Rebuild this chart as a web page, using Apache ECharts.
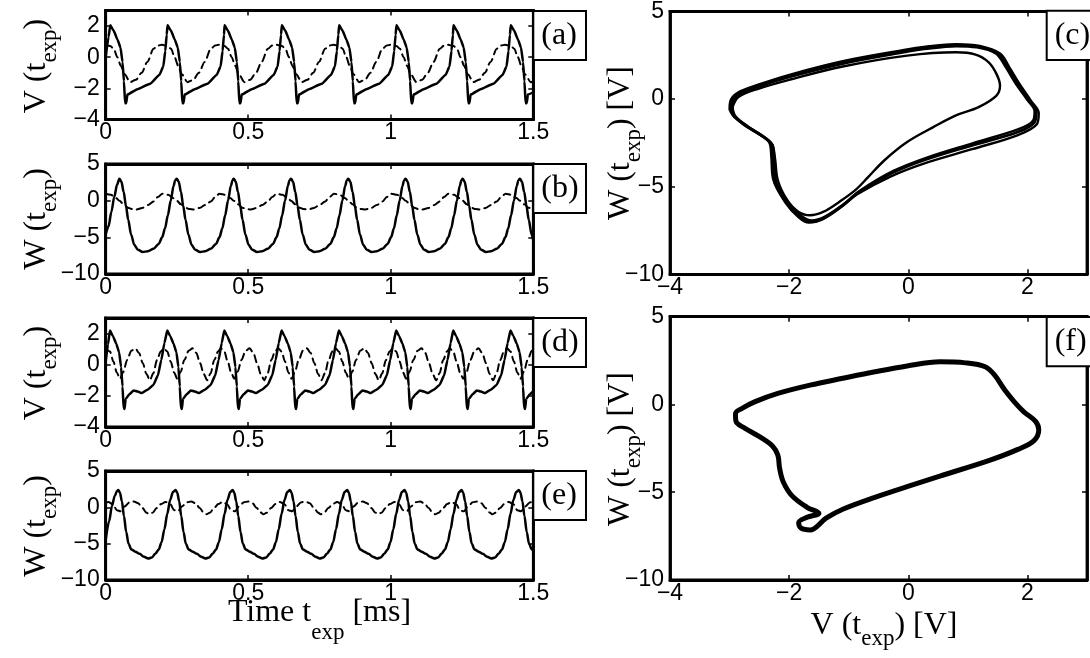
<!DOCTYPE html>
<html><head><meta charset="utf-8">
<script src="https://cdn.jsdelivr.net/npm/echarts@6/dist/echarts.min.js"></script>
<style>html,body{margin:0;padding:0;background:#fff}#c{width:1090px;height:658px}</style>
</head><body><div id="c"></div>
<script>
// ---------- tick labels ----------
const timeTicks = [0, 0.5, 1, 1.5];
const vTicks = [-4, -2, 0, 2];
const wTicks = [-10, -5, 0, 5];
const vPhaseTicks = [-4, -2, 0, 2];
const panelLetters = ['(a)', '(b)', '(c)', '(d)', '(e)', '(f)'];

// ---------- (a) V(t), solid ----------
const aSolid = [[0,0.0],[0.010,1.3],
[0.016,2.05],[0.028,1.7],[0.042,1.1],[0.052,0.6],[0.059,-0.3],[0.064,-1.55],[0.068,-2.95],[0.072,-2.95],[0.076,-2.4],[0.111,-2.05],[0.156,-1.7],[0.188,-1.15],[0.202,-0.6],[0.209,0.4],[0.214,1.45],
[0.217,2.05],[0.229,1.7],[0.243,1.1],[0.253,0.6],[0.260,-0.3],[0.265,-1.55],[0.269,-2.95],[0.273,-2.95],[0.277,-2.4],[0.312,-2.05],[0.357,-1.7],[0.389,-1.15],[0.403,-0.6],[0.410,0.4],[0.415,1.45],
[0.417,2.05],[0.429,1.7],[0.443,1.1],[0.453,0.6],[0.460,-0.3],[0.465,-1.55],[0.469,-2.95],[0.473,-2.95],[0.477,-2.4],[0.512,-2.05],[0.557,-1.7],[0.589,-1.15],[0.603,-0.6],[0.610,0.4],[0.615,1.45],
[0.618,2.05],[0.630,1.7],[0.644,1.1],[0.654,0.6],[0.661,-0.3],[0.666,-1.55],[0.670,-2.95],[0.674,-2.95],[0.678,-2.4],[0.713,-2.05],[0.758,-1.7],[0.790,-1.15],[0.804,-0.6],[0.811,0.4],[0.816,1.45],
[0.819,2.05],[0.831,1.7],[0.845,1.1],[0.855,0.6],[0.862,-0.3],[0.867,-1.55],[0.871,-2.95],[0.875,-2.95],[0.879,-2.4],[0.914,-2.05],[0.959,-1.7],[0.991,-1.15],[1.005,-0.6],[1.012,0.4],[1.017,1.45],
[1.020,2.05],[1.032,1.7],[1.046,1.1],[1.056,0.6],[1.063,-0.3],[1.068,-1.55],[1.072,-2.95],[1.076,-2.95],[1.080,-2.4],[1.115,-2.05],[1.160,-1.7],[1.192,-1.15],[1.206,-0.6],[1.213,0.4],[1.218,1.45],
[1.220,2.05],[1.232,1.7],[1.246,1.1],[1.256,0.6],[1.263,-0.3],[1.268,-1.55],[1.272,-2.95],[1.276,-2.95],[1.280,-2.4],[1.315,-2.05],[1.360,-1.7],[1.392,-1.15],[1.406,-0.6],[1.413,0.4],[1.418,1.45],
[1.421,2.05],[1.433,1.7],[1.447,1.1],[1.457,0.6],[1.464,-0.3],[1.469,-1.55],[1.473,-2.95],[1.477,-2.95],[1.481,-2.4],[1.5,-2.25]];

// ---------- (a) V(t), dashed ----------
const aDashed = [[0,0.78],
[0.016,0.72],[0.028,0.55],[0.041,0.0],[0.053,-0.55],[0.066,-1.1],[0.086,-1.6],[0.106,-1.45],[0.126,-1.0],[0.146,-0.3],[0.168,0.55],[0.183,0.75],
[0.197,0.8],[0.217,0.72],[0.229,0.55],[0.242,0.0],[0.254,-0.55],[0.267,-1.1],[0.287,-1.6],[0.307,-1.45],[0.327,-1.0],[0.347,-0.3],[0.369,0.55],[0.384,0.75],
[0.397,0.8],[0.417,0.72],[0.429,0.55],[0.442,0.0],[0.454,-0.55],[0.467,-1.1],[0.487,-1.6],[0.507,-1.45],[0.527,-1.0],[0.547,-0.3],[0.569,0.55],[0.584,0.75],
[0.598,0.8],[0.618,0.72],[0.630,0.55],[0.643,0.0],[0.655,-0.55],[0.668,-1.1],[0.688,-1.6],[0.708,-1.45],[0.728,-1.0],[0.748,-0.3],[0.770,0.55],[0.785,0.75],
[0.799,0.8],[0.819,0.72],[0.831,0.55],[0.844,0.0],[0.856,-0.55],[0.869,-1.1],[0.889,-1.6],[0.909,-1.45],[0.929,-1.0],[0.949,-0.3],[0.971,0.55],[0.986,0.75],
[1.000,0.8],[1.020,0.72],[1.032,0.55],[1.045,0.0],[1.057,-0.55],[1.070,-1.1],[1.090,-1.6],[1.110,-1.45],[1.130,-1.0],[1.150,-0.3],[1.172,0.55],[1.187,0.75],
[1.200,0.8],[1.220,0.72],[1.232,0.55],[1.245,0.0],[1.257,-0.55],[1.270,-1.1],[1.290,-1.6],[1.310,-1.45],[1.330,-1.0],[1.350,-0.3],[1.372,0.55],[1.387,0.75],
[1.401,0.8],[1.421,0.72],[1.433,0.55],[1.446,0.0],[1.458,-0.55],[1.471,-1.1],[1.491,-1.6],[1.5,-1.55]];

// ---------- (b) W(t), solid ----------
const bSolid = [[0,-4.6],[0.010,-3.5],[0.020,-1.5],[0.030,0.5],[0.040,2.2],
[0.048,3.0],[0.055,2.6],[0.063,1.2],[0.071,-0.7],[0.079,-2.6],[0.089,-4.6],[0.100,-6.0],[0.113,-6.7],[0.130,-7.0],[0.148,-6.9],[0.168,-6.55],[0.186,-5.9],[0.198,-5.0],[0.208,-3.8],[0.218,-2.0],[0.228,0.0],[0.238,2.0],[0.244,2.8],
[0.249,3.0],[0.256,2.6],[0.264,1.2],[0.272,-0.7],[0.280,-2.6],[0.290,-4.6],[0.301,-6.0],[0.314,-6.7],[0.331,-7.0],[0.349,-6.9],[0.369,-6.55],[0.387,-5.9],[0.399,-5.0],[0.409,-3.8],[0.419,-2.0],[0.429,0.0],[0.439,2.0],[0.445,2.8],
[0.449,3.0],[0.456,2.6],[0.464,1.2],[0.472,-0.7],[0.480,-2.6],[0.490,-4.6],[0.501,-6.0],[0.514,-6.7],[0.531,-7.0],[0.549,-6.9],[0.569,-6.55],[0.587,-5.9],[0.599,-5.0],[0.609,-3.8],[0.619,-2.0],[0.629,0.0],[0.639,2.0],[0.645,2.8],
[0.650,3.0],[0.657,2.6],[0.665,1.2],[0.673,-0.7],[0.681,-2.6],[0.691,-4.6],[0.702,-6.0],[0.715,-6.7],[0.732,-7.0],[0.750,-6.9],[0.770,-6.55],[0.788,-5.9],[0.800,-5.0],[0.810,-3.8],[0.820,-2.0],[0.830,0.0],[0.840,2.0],[0.846,2.8],
[0.851,3.0],[0.858,2.6],[0.866,1.2],[0.874,-0.7],[0.882,-2.6],[0.892,-4.6],[0.903,-6.0],[0.916,-6.7],[0.933,-7.0],[0.951,-6.9],[0.971,-6.55],[0.989,-5.9],[1.001,-5.0],[1.011,-3.8],[1.021,-2.0],[1.031,0.0],[1.041,2.0],[1.047,2.8],
[1.052,3.0],[1.059,2.6],[1.067,1.2],[1.075,-0.7],[1.083,-2.6],[1.093,-4.6],[1.104,-6.0],[1.117,-6.7],[1.134,-7.0],[1.152,-6.9],[1.172,-6.55],[1.190,-5.9],[1.202,-5.0],[1.212,-3.8],[1.222,-2.0],[1.232,0.0],[1.242,2.0],[1.248,2.8],
[1.252,3.0],[1.259,2.6],[1.267,1.2],[1.275,-0.7],[1.283,-2.6],[1.293,-4.6],[1.304,-6.0],[1.317,-6.7],[1.334,-7.0],[1.352,-6.9],[1.372,-6.55],[1.390,-5.9],[1.402,-5.0],[1.412,-3.8],[1.422,-2.0],[1.432,0.0],[1.442,2.0],[1.448,2.8],
[1.453,3.0],[1.460,2.6],[1.468,1.2],[1.476,-0.7],[1.484,-2.6],[1.494,-4.6],[1.5,-5.4]];

// ---------- (b) W(t), dashed ----------
const bDashed = [[0,0.95],[0.018,0.8],[0.036,0.35],[0.048,0.0],[0.063,-0.5],[0.078,-0.95],[0.093,-1.15],[0.108,-1.2],[0.128,-1.0],[0.148,-0.6],[0.168,-0.1],[0.183,0.5],
[0.199,0.95],[0.219,0.8],[0.237,0.35],[0.249,0.0],[0.264,-0.5],[0.279,-0.95],[0.294,-1.15],[0.309,-1.2],[0.329,-1.0],[0.349,-0.6],[0.369,-0.1],[0.384,0.5],
[0.399,0.95],[0.419,0.8],[0.437,0.35],[0.449,0.0],[0.464,-0.5],[0.479,-0.95],[0.494,-1.15],[0.509,-1.2],[0.529,-1.0],[0.549,-0.6],[0.569,-0.1],[0.584,0.5],
[0.600,0.95],[0.620,0.8],[0.638,0.35],[0.650,0.0],[0.665,-0.5],[0.680,-0.95],[0.695,-1.15],[0.710,-1.2],[0.730,-1.0],[0.750,-0.6],[0.770,-0.1],[0.785,0.5],
[0.801,0.95],[0.821,0.8],[0.839,0.35],[0.851,0.0],[0.866,-0.5],[0.881,-0.95],[0.896,-1.15],[0.911,-1.2],[0.931,-1.0],[0.951,-0.6],[0.971,-0.1],[0.986,0.5],
[1.002,0.95],[1.022,0.8],[1.040,0.35],[1.052,0.0],[1.067,-0.5],[1.082,-0.95],[1.097,-1.15],[1.112,-1.2],[1.132,-1.0],[1.152,-0.6],[1.172,-0.1],[1.187,0.5],
[1.202,0.95],[1.222,0.8],[1.240,0.35],[1.252,0.0],[1.267,-0.5],[1.282,-0.95],[1.297,-1.15],[1.312,-1.2],[1.332,-1.0],[1.352,-0.6],[1.372,-0.1],[1.387,0.5],
[1.403,0.95],[1.423,0.8],[1.441,0.35],[1.453,0.0],[1.468,-0.5],[1.483,-0.95],[1.498,-1.15],[1.5,-1.15]];

// ---------- (d) V(t), solid ----------
const dSolid = [[0,0.2],[0.008,1.3],
[0.015,2.2],[0.025,1.85],[0.037,1.35],[0.047,0.8],[0.054,-0.15],[0.059,-1.4],[0.063,-2.8],[0.066,-2.85],[0.070,-2.2],[0.083,-1.9],[0.098,-1.65],[0.112,-1.72],[0.127,-1.82],[0.147,-1.6],[0.167,-1.3],[0.183,-0.7],[0.195,0.3],[0.206,1.4],
[0.216,2.2],[0.226,1.85],[0.238,1.35],[0.248,0.8],[0.255,-0.15],[0.260,-1.4],[0.264,-2.8],[0.267,-2.85],[0.271,-2.2],[0.284,-1.9],[0.299,-1.65],[0.313,-1.72],[0.328,-1.82],[0.348,-1.6],[0.368,-1.3],[0.384,-0.7],[0.396,0.3],[0.407,1.4],
[0.416,2.2],[0.426,1.85],[0.438,1.35],[0.448,0.8],[0.455,-0.15],[0.460,-1.4],[0.464,-2.8],[0.467,-2.85],[0.471,-2.2],[0.484,-1.9],[0.499,-1.65],[0.513,-1.72],[0.528,-1.82],[0.548,-1.6],[0.568,-1.3],[0.584,-0.7],[0.596,0.3],[0.607,1.4],
[0.617,2.2],[0.627,1.85],[0.639,1.35],[0.649,0.8],[0.656,-0.15],[0.661,-1.4],[0.665,-2.8],[0.668,-2.85],[0.672,-2.2],[0.685,-1.9],[0.700,-1.65],[0.714,-1.72],[0.729,-1.82],[0.749,-1.6],[0.769,-1.3],[0.785,-0.7],[0.797,0.3],[0.808,1.4],
[0.818,2.2],[0.828,1.85],[0.840,1.35],[0.850,0.8],[0.857,-0.15],[0.862,-1.4],[0.866,-2.8],[0.869,-2.85],[0.873,-2.2],[0.886,-1.9],[0.901,-1.65],[0.915,-1.72],[0.930,-1.82],[0.950,-1.6],[0.970,-1.3],[0.986,-0.7],[0.998,0.3],[1.009,1.4],
[1.019,2.2],[1.029,1.85],[1.041,1.35],[1.051,0.8],[1.058,-0.15],[1.063,-1.4],[1.067,-2.8],[1.070,-2.85],[1.074,-2.2],[1.087,-1.9],[1.102,-1.65],[1.116,-1.72],[1.131,-1.82],[1.151,-1.6],[1.171,-1.3],[1.187,-0.7],[1.199,0.3],[1.210,1.4],
[1.219,2.2],[1.229,1.85],[1.241,1.35],[1.251,0.8],[1.258,-0.15],[1.263,-1.4],[1.267,-2.8],[1.270,-2.85],[1.274,-2.2],[1.287,-1.9],[1.302,-1.65],[1.316,-1.72],[1.331,-1.82],[1.351,-1.6],[1.371,-1.3],[1.387,-0.7],[1.399,0.3],[1.410,1.4],
[1.420,2.2],[1.430,1.85],[1.442,1.35],[1.452,0.8],[1.459,-0.15],[1.464,-1.4],[1.468,-2.8],[1.471,-2.85],[1.475,-2.2],[1.488,-1.9],[1.5,-1.7]];

// ---------- (d) V(t), dashed ----------
const dDashed = [[0,1.05],
[0.015,0.85],[0.027,0.2],[0.039,-0.5],[0.050,-0.9],[0.062,-0.45],[0.075,0.3],[0.090,0.9],[0.104,1.05],[0.117,0.75],[0.130,0.1],[0.143,-0.6],[0.155,-1.0],[0.167,-0.55],[0.180,0.3],[0.193,0.85],
[0.204,1.05],[0.216,0.85],[0.228,0.2],[0.240,-0.5],[0.251,-0.9],[0.263,-0.45],[0.276,0.3],[0.291,0.9],[0.305,1.05],[0.318,0.75],[0.331,0.1],[0.344,-0.6],[0.356,-1.0],[0.368,-0.55],[0.381,0.3],[0.394,0.85],
[0.404,1.05],[0.416,0.85],[0.428,0.2],[0.440,-0.5],[0.451,-0.9],[0.463,-0.45],[0.476,0.3],[0.491,0.9],[0.505,1.05],[0.518,0.75],[0.531,0.1],[0.544,-0.6],[0.556,-1.0],[0.568,-0.55],[0.581,0.3],[0.594,0.85],
[0.605,1.05],[0.617,0.85],[0.629,0.2],[0.641,-0.5],[0.652,-0.9],[0.664,-0.45],[0.677,0.3],[0.692,0.9],[0.706,1.05],[0.719,0.75],[0.732,0.1],[0.745,-0.6],[0.757,-1.0],[0.769,-0.55],[0.782,0.3],[0.795,0.85],
[0.806,1.05],[0.818,0.85],[0.830,0.2],[0.842,-0.5],[0.853,-0.9],[0.865,-0.45],[0.878,0.3],[0.893,0.9],[0.907,1.05],[0.920,0.75],[0.933,0.1],[0.946,-0.6],[0.958,-1.0],[0.970,-0.55],[0.983,0.3],[0.996,0.85],
[1.007,1.05],[1.019,0.85],[1.031,0.2],[1.043,-0.5],[1.054,-0.9],[1.066,-0.45],[1.079,0.3],[1.094,0.9],[1.108,1.05],[1.121,0.75],[1.134,0.1],[1.147,-0.6],[1.159,-1.0],[1.171,-0.55],[1.184,0.3],[1.197,0.85],
[1.207,1.05],[1.219,0.85],[1.231,0.2],[1.243,-0.5],[1.254,-0.9],[1.266,-0.45],[1.279,0.3],[1.294,0.9],[1.308,1.05],[1.321,0.75],[1.334,0.1],[1.347,-0.6],[1.359,-1.0],[1.371,-0.55],[1.384,0.3],[1.397,0.85],
[1.408,1.05],[1.420,0.85],[1.432,0.2],[1.444,-0.5],[1.455,-0.9],[1.467,-0.45],[1.480,0.3],[1.495,0.9],[1.5,1.0]];

// ---------- (e) W(t), solid ----------
const eSolid = [[0,-4.5],[0.012,-1.9],[0.022,0.2],[0.032,1.6],[0.039,2.2],
[0.044,2.4],[0.050,2.0],[0.057,0.8],[0.064,-1.2],[0.072,-3.4],[0.080,-5.0],[0.090,-5.8],[0.104,-6.1],[0.119,-6.4],[0.134,-6.8],[0.149,-7.05],[0.162,-6.9],[0.174,-6.4],[0.186,-5.8],[0.196,-4.8],[0.206,-3.0],[0.216,-0.9],[0.226,1.0],[0.236,2.1],
[0.245,2.4],[0.251,2.0],[0.258,0.8],[0.265,-1.2],[0.273,-3.4],[0.281,-5.0],[0.291,-5.8],[0.305,-6.1],[0.320,-6.4],[0.335,-6.8],[0.350,-7.05],[0.363,-6.9],[0.375,-6.4],[0.387,-5.8],[0.397,-4.8],[0.407,-3.0],[0.417,-0.9],[0.427,1.0],[0.437,2.1],
[0.445,2.4],[0.451,2.0],[0.458,0.8],[0.465,-1.2],[0.473,-3.4],[0.481,-5.0],[0.491,-5.8],[0.505,-6.1],[0.520,-6.4],[0.535,-6.8],[0.550,-7.05],[0.563,-6.9],[0.575,-6.4],[0.587,-5.8],[0.597,-4.8],[0.607,-3.0],[0.617,-0.9],[0.627,1.0],[0.637,2.1],
[0.646,2.4],[0.652,2.0],[0.659,0.8],[0.666,-1.2],[0.674,-3.4],[0.682,-5.0],[0.692,-5.8],[0.706,-6.1],[0.721,-6.4],[0.736,-6.8],[0.751,-7.05],[0.764,-6.9],[0.776,-6.4],[0.788,-5.8],[0.798,-4.8],[0.808,-3.0],[0.818,-0.9],[0.828,1.0],[0.838,2.1],
[0.847,2.4],[0.853,2.0],[0.860,0.8],[0.867,-1.2],[0.875,-3.4],[0.883,-5.0],[0.893,-5.8],[0.907,-6.1],[0.922,-6.4],[0.937,-6.8],[0.952,-7.05],[0.965,-6.9],[0.977,-6.4],[0.989,-5.8],[0.999,-4.8],[1.009,-3.0],[1.019,-0.9],[1.029,1.0],[1.039,2.1],
[1.048,2.4],[1.054,2.0],[1.061,0.8],[1.068,-1.2],[1.076,-3.4],[1.084,-5.0],[1.094,-5.8],[1.108,-6.1],[1.123,-6.4],[1.138,-6.8],[1.153,-7.05],[1.166,-6.9],[1.178,-6.4],[1.190,-5.8],[1.200,-4.8],[1.210,-3.0],[1.220,-0.9],[1.230,1.0],[1.240,2.1],
[1.248,2.4],[1.254,2.0],[1.261,0.8],[1.268,-1.2],[1.276,-3.4],[1.284,-5.0],[1.294,-5.8],[1.308,-6.1],[1.323,-6.4],[1.338,-6.8],[1.353,-7.05],[1.366,-6.9],[1.378,-6.4],[1.390,-5.8],[1.400,-4.8],[1.410,-3.0],[1.420,-0.9],[1.430,1.0],[1.440,2.1],
[1.449,2.4],[1.455,2.0],[1.462,0.8],[1.469,-1.2],[1.477,-3.4],[1.485,-5.0],[1.495,-5.8],[1.5,-5.9]];

// ---------- (e) W(t), dashed ----------
const eDashed = [[0,0.65],
[0.009,0.75],[0.026,0.4],[0.039,-0.4],[0.052,-0.55],[0.066,0.1],[0.084,0.7],[0.099,0.8],[0.114,0.55],[0.129,-0.1],[0.142,-0.7],[0.152,-0.95],[0.164,-0.75],[0.179,-0.1],[0.194,0.45],
[0.210,0.75],[0.227,0.4],[0.240,-0.4],[0.253,-0.55],[0.267,0.1],[0.285,0.7],[0.300,0.8],[0.315,0.55],[0.330,-0.1],[0.343,-0.7],[0.353,-0.95],[0.365,-0.75],[0.380,-0.1],[0.395,0.45],
[0.410,0.75],[0.427,0.4],[0.440,-0.4],[0.453,-0.55],[0.467,0.1],[0.485,0.7],[0.500,0.8],[0.515,0.55],[0.530,-0.1],[0.543,-0.7],[0.553,-0.95],[0.565,-0.75],[0.580,-0.1],[0.595,0.45],
[0.611,0.75],[0.628,0.4],[0.641,-0.4],[0.654,-0.55],[0.668,0.1],[0.686,0.7],[0.701,0.8],[0.716,0.55],[0.731,-0.1],[0.744,-0.7],[0.754,-0.95],[0.766,-0.75],[0.781,-0.1],[0.796,0.45],
[0.812,0.75],[0.829,0.4],[0.842,-0.4],[0.855,-0.55],[0.869,0.1],[0.887,0.7],[0.902,0.8],[0.917,0.55],[0.932,-0.1],[0.945,-0.7],[0.955,-0.95],[0.967,-0.75],[0.982,-0.1],[0.997,0.45],
[1.013,0.75],[1.030,0.4],[1.043,-0.4],[1.056,-0.55],[1.070,0.1],[1.088,0.7],[1.103,0.8],[1.118,0.55],[1.133,-0.1],[1.146,-0.7],[1.156,-0.95],[1.168,-0.75],[1.183,-0.1],[1.198,0.45],
[1.213,0.75],[1.230,0.4],[1.243,-0.4],[1.256,-0.55],[1.270,0.1],[1.288,0.7],[1.303,0.8],[1.318,0.55],[1.333,-0.1],[1.346,-0.7],[1.356,-0.95],[1.368,-0.75],[1.383,-0.1],[1.398,0.45],
[1.414,0.75],[1.431,0.4],[1.444,-0.4],[1.457,-0.55],[1.471,0.1],[1.489,0.7],[1.5,0.78]];

// ---------- (c) phase portrait: several traced cycles ----------
const cLoop1 = [[-2.98,-0.55],[-2.93,-0.93],[-2.74,-1.50],[-2.44,-2.13],[-2.31,-2.54],[-2.28,-3.31],[-2.25,-4.63],[-2.03,-5.96],[-1.81,-6.72],[-1.65,-7.01],[-1.43,-6.81],[-1.10,-6.06],[-0.83,-5.30],[-0.29,-4.25],[0.26,-3.49],[1.07,-2.64],[1.84,-1.88],[2.12,-1.31],[2.15,-0.75],[2.03,-0.08],[1.84,0.87],[1.67,1.82],[1.51,2.58],[1.18,2.99],[0.80,3.09],[0.26,2.92],[-0.02,2.77],[-1.10,2.10],[-1.98,1.34],[-2.52,0.77],[-2.85,0.30],[-2.97,-0.17],[-2.98,-0.55]];
const cLoop2 = [[-2.95,-0.5],[-2.9,-0.98],[-2.7,-1.55],[-2.42,-2.2],[-2.28,-2.6],[-2.25,-3.4],[-2.22,-4.7],[-2.0,-6.0],[-1.8,-6.65],[-1.62,-6.92],[-1.4,-6.7],[-1.08,-5.98],[-0.8,-5.2],[-0.25,-4.1],[0.3,-3.35],[1.1,-2.5],[1.85,-1.72],[2.1,-1.2],[2.12,-0.7],[2.0,-0.05],[1.8,0.9],[1.63,1.85],[1.47,2.6],[1.15,2.95],[0.8,3.02],[0.26,2.85],[-0.02,2.7],[-1.1,2.02],[-1.98,1.27],[-2.52,0.7],[-2.84,0.24],[-2.95,-0.2],[-2.95,-0.5]];
const cLoop3 = [[-3.0,-0.6],[-2.95,-0.9],[-2.76,-1.47],[-2.46,-2.1],[-2.33,-2.5],[-2.3,-3.25],[-2.27,-4.55],[-2.06,-5.92],[-1.84,-6.75],[-1.67,-7.05],[-1.45,-6.88],[-1.12,-6.15],[-0.85,-5.42],[-0.3,-4.42],[0.26,-3.68],[1.07,-2.86],[1.84,-2.05],[2.16,-1.42],[2.19,-0.8],[2.06,-0.1],[1.87,0.85],[1.7,1.8],[1.54,2.6],[1.2,3.03],[0.8,3.14],[0.26,2.97],[-0.02,2.83],[-1.1,2.16],[-1.98,1.4],[-2.52,0.82],[-2.87,0.35],[-2.99,-0.15],[-3.0,-0.6]];
const cInner = [[-2.95,-0.45],[-2.85,0.12],[-2.52,0.59],[-1.98,1.12],[-1.10,1.86],[-0.02,2.48],[0.80,2.67],[1.13,2.54],[1.35,2.10],[1.48,1.44],[1.54,0.77],[1.48,0.20],[1.18,-0.46],[0.80,-0.93],[0.42,-1.60],[-0.02,-2.45],[-0.40,-3.49],[-0.67,-4.44],[-0.89,-5.20],[-1.16,-5.87],[-1.43,-6.44],[-1.65,-6.63],[-1.84,-6.44],[-2.03,-5.77],[-2.19,-4.63],[-2.24,-3.31],[-2.30,-2.51],[-2.74,-1.45],[-2.95,-0.84],[-2.95,-0.45]];

// ---------- (f) phase portrait ----------
const fLoop = [[-2.90,-0.70],[-2.88,-1.04],[-2.74,-1.36],[-2.47,-1.89],[-2.28,-2.37],[-2.19,-2.88],[-2.16,-3.64],[-2.10,-4.40],[-1.95,-5.21],[-1.70,-5.86],[-1.50,-6.20],[-1.70,-6.43],[-1.84,-6.73],[-1.80,-7.05],[-1.65,-7.15],[-1.38,-6.48],[-1.10,-5.97],[-0.56,-5.29],[-0.02,-4.68],[0.53,-4.08],[1.35,-3.20],[1.84,-2.56],[2.11,-2.06],[2.19,-1.46],[2.14,-0.98],[1.94,-0.42],[1.78,0.15],[1.62,0.82],[1.45,1.67],[1.29,2.15],[0.96,2.37],[0.53,2.43],[-0.02,2.19],[-0.56,1.86],[-1.10,1.49],[-1.65,1.10],[-2.19,0.63],[-2.58,0.15],[-2.79,-0.22],[-2.90,-0.51],[-2.90,-0.70]];

// ================= layout & styling =================
const SERIF = '"Liberation Serif", "Times New Roman", serif';
const SANS = '"Liberation Sans", Arial, Helvetica, sans-serif';

const grids = [
  {left: 105.7, top: 10.5, width: 427.6, height: 109},   // a
  {left: 105.7, top: 164,  width: 427.6, height: 110},   // b
  {left: 670,   top: 10.7, width: 428.4, height: 263.6}, // c
  {left: 105.7, top: 318,  width: 427.6, height: 109},   // d
  {left: 105.7, top: 471,  width: 427.6, height: 109},   // e
  {left: 670,   top: 316.7,width: 428.4, height: 263.3}  // f
];
const axisDefs = [
  {x: [0, 1.5, 0.5, timeTicks], y: [-4, 3, 2, vTicks]},
  {x: [0, 1.5, 0.5, timeTicks], y: [-10, 5, 5, wTicks]},
  {x: [-4, 3, 2, vPhaseTicks], y: [-10, 5, 5, wTicks]},
  {x: [0, 1.5, 0.5, timeTicks], y: [-4, 3, 2, vTicks]},
  {x: [0, 1.5, 0.5, timeTicks], y: [-10, 5, 5, wTicks]},
  {x: [-4, 3, 2, vPhaseTicks], y: [-10, 5, 5, wTicks]}
];

function fmt(v) { return String(+v.toFixed(4)).replace('-', '\u2212'); }
function makeAxes(dim, gi, def) {
  const [min, max, interval, ticks] = def;
  const common = {
    gridIndex: gi, type: 'value', min, max, interval,
    splitLine: {show: false},
    axisLine: {show: true, onZero: false, lineStyle: {color: '#000', width: 2.8}},
    axisTick: {show: true, inside: true, length: 5, lineStyle: {color: '#000', width: 1.5}}
  };
  const main = Object.assign({}, common, {
    position: dim === 'x' ? 'bottom' : 'left',
    axisLabel: {
      show: true, color: '#000', fontFamily: SANS, fontSize: 23,
      margin: dim === 'x' ? 2 : 6, showMinLabel: true, showMaxLabel: true,
      formatter: v => ticks.some(t => Math.abs(t - v) < 1e-6) ? fmt(v) : ''
    }
  });
  const sec = Object.assign({}, common, {
    position: dim === 'x' ? 'top' : 'right',
    axisLabel: {show: false}
  });
  return [main, sec];
}
const xAxes = [], yAxes = [];
axisDefs.forEach((d, i) => { xAxes.push(...makeAxes('x', i, d.x)); yAxes.push(...makeAxes('y', i, d.y)); });

function line(data, gi, width, dashed, smooth) {
  return {
    type: 'line', xAxisIndex: 2 * gi, yAxisIndex: 2 * gi, data,
    showSymbol: false, symbol: 'none', smooth: smooth, smoothMonotone: gi === 2 || gi === 5 ? undefined : 'x',
    lineStyle: {color: '#000', width, type: dashed ? [7, 5] : 'solid', cap: 'round', join: 'round'},
    silent: true, animation: false, clip: true
  };
}
const series = [
  line(aDashed, 0, 2, true, 0.3), line(aSolid, 0, 2.5, false, 0.15),
  line(bDashed, 1, 2, true, 0.3), line(bSolid, 1, 2.5, false, 0.3),
  line(cInner, 2, 2.4, false, 0.35), line(cLoop1, 2, 2.8, false, 0.35), line(cLoop2, 2, 2.4, false, 0.35), line(cLoop3, 2, 2.4, false, 0.35),
  line(dDashed, 3, 2, true, 0.3), line(dSolid, 3, 2.5, false, 0.15),
  line(eDashed, 4, 2, true, 0.3), line(eSolid, 4, 2.5, false, 0.3),
  line(fLoop, 5, 5, false, 0.35)
];

// ---------- titles & panel tags ----------
function richWithDrop(drop) {
  return {
    m: {fontFamily: SERIF, fontSize: 32, lineHeight: 34, color: '#000', verticalAlign: 'middle'},
    s: {fontFamily: SERIF, fontSize: 23, lineHeight: 23, color: '#000', padding: [2 * drop, 0, 0, 0], verticalAlign: 'middle'}
  };
}
function title(text, x, y, rot, drop) {
  return {type: 'text', x, y, rotation: rot ? Math.PI / 2 : 0, z: 100, silent: true,
    style: {text, rich: richWithDrop(drop), align: 'center', verticalAlign: 'middle', fill: '#000'}};
}
const tagBoxes = [
  [533.3, 11, 52.7, 49], [533.3, 164, 52.7, 49], [1046.7, 10.7, 60, 49.3],
  [533.3, 318, 52.7, 49], [533.3, 471, 52.7, 49], [1046.7, 317, 60, 49.3]
];
const graphics = [];
tagBoxes.forEach((b, i) => {
  graphics.push({type: 'rect', z: 90, silent: true, shape: {x: b[0], y: b[1], width: b[2], height: b[3]},
    style: {fill: '#fff', stroke: '#000', lineWidth: 2}});
  graphics.push({type: 'text', z: 91, silent: true, x: b[0] + 8, y: b[1] + b[3] / 2,
    style: {text: panelLetters[i], font: '32px ' + SERIF, fill: '#000', align: 'left', verticalAlign: 'middle'}});
});
graphics.push(title('{m|V (t}{s|exp}{m|)}', 37, 66, true, 13));
graphics.push(title('{m|W (t}{s|exp}{m|)}', 37, 219, true, 13));
graphics.push(title('{m|V (t}{s|exp}{m|)}', 37, 373, true, 13));
graphics.push(title('{m|W (t}{s|exp}{m|)}', 37, 526, true, 13));
graphics.push(title('{m|W (t}{s|exp}{m|) [V]}', 620.5, 143, true, 13));
graphics.push(title('{m|W (t}{s|exp}{m|) [V]}', 620.5, 449, true, 13));
graphics.push(title('{m|Time t}{s|exp}{m| [ms]}', 319.5, 613, false, 20));
graphics.push(title('{m|V (t}{s|exp}{m|) [V]}', 884, 626, false, 13));

const chart = echarts.init(document.getElementById('c'), null, {renderer: 'canvas'});
chart.setOption({
  animation: false,
  backgroundColor: '#fff',
  grid: grids.map(g => Object.assign({show: true, borderColor: '#000', borderWidth: 2.8, backgroundColor: '#fff', containLabel: false}, g)),
  xAxis: xAxes,
  yAxis: yAxes,
  series,
  graphic: graphics
});
</script></body></html>
